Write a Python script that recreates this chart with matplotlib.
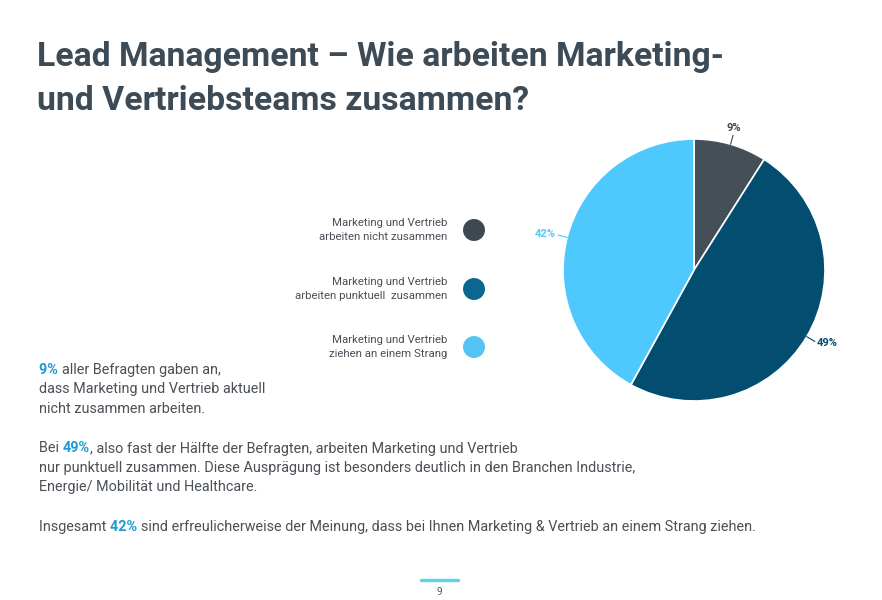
import matplotlib
matplotlib.use("Agg")
import matplotlib.pyplot as plt
import numpy as np

# data
categories = ["Marketing und Vertrieb\narbeiten nicht zusammen",
              "Marketing und Vertrieb\narbeiten punktuell  zusammen",
              "Marketing und Vertrieb\nziehen an einem Strang"]
shares = [9, 49, 42]
slice_colors = ["#444f57", "#024d70", "#4fc9fd"]
legend_colors = ["#3e4850", "#0b6690", "#55c4f2"]
label_colors = ["#3e4850", "#024d70", "#4fc9fd"]

title_lines = ["Lead Management – Wie arbeiten Marketing-",
               "und Vertriebsteams zusammen?"]

# body paragraphs: list of lines, each line a list of (text, highlighted)
body_lines = [
    [("9% ", True), ("aller Befragten gaben an,", False)],
    [("dass Marketing und Vertrieb aktuell", False)],
    [("nicht zusammen arbeiten.", False)],
    None,
    [("Bei ", False), ("49%", True), (", also fast der Hälfte der Befragten, arbeiten Marketing und Vertrieb", False)],
    [("nur punktuell zusammen. Diese Ausprägung ist besonders deutlich in den Branchen Industrie,", False)],
    [("Energie/ Mobilität und Healthcare.", False)],
    None,
    [("Insgesamt ", False), ("42% ", True), ("sind erfreulicherweise der Meinung, dass bei Ihnen Marketing & Vertrieb an einem Strang ziehen.", False)],
]
page_number = "9"

FONT = "Roboto"
TEXT = "#4a5057"
TITLE = "#3d4b56"
HILITE = "#1a9ad6"
BODY_SIZE = 10.4

W, H = 882, 600
fig = plt.figure(figsize=(W / 100, H / 100), dpi=100)
fig.patch.set_facecolor("white")

# overlay axes in pixel units
ov = fig.add_axes([0, 0, 1, 1])
ov.set_xlim(0, W)
ov.set_ylim(H, 0)
ov.axis("off")

# title
for i, line in enumerate(title_lines):
    ov.text(37, 66 + i * 44, line, family=FONT, fontsize=24.3, weight="bold",
            color=TITLE, va="baseline", ha="left")

# pie
cx, cy, r = 694, 270, 131
pax = fig.add_axes([(cx - r) / W, (H - cy - r) / H, 2 * r / W, 2 * r / H])
wedges, _ = pax.pie(shares, colors=slice_colors, startangle=90, counterclock=False,
                    radius=1.0, wedgeprops=dict(edgecolor="white", linewidth=1.2))
pax.set_xlim(-1, 1)
pax.set_ylim(-1, 1)
pax.set_aspect("equal")

for w, val, col in zip(wedges, shares, label_colors):
    ang = np.deg2rad((w.theta1 + w.theta2) / 2)
    ca, sa = np.cos(ang), np.sin(ang)
    pax.plot([1.0 * ca, 1.07 * ca], [1.0 * sa, 1.07 * sa], color=col, lw=0.8,
             clip_on=False)
    ha = "left" if ca > 0.3 else ("right" if ca < -0.3 else "center")
    pax.text(1.09 * ca, 1.09 * sa, f"{val}%", color=col, family=FONT, fontsize=8,
             weight="bold", ha=ha, va="center" if abs(sa) < 0.8 else "bottom")

# legend
rows_y = [230, 289, 347]
for y, lab, col in zip(rows_y, categories, legend_colors):
    ov.scatter([474], [y], s=250, color=col, edgecolors="none")
    ov.text(447, y, lab, family=FONT, fontsize=8.2, color=TEXT, ha="right",
            va="center", linespacing=1.45)

# body text with highlighted spans
fig.canvas.draw()
renderer = fig.canvas.get_renderer()


def width_of(s, weight):
    t = ov.text(0, 0, s, family=FONT, fontsize=BODY_SIZE, weight=weight)
    wpx = t.get_window_extent(renderer).width
    t.remove()
    return wpx


y = 374
for line in body_lines:
    if line is None:
        y += 20
        continue
    x = 39
    for txt, hi in line:
        weight = "bold" if hi else "normal"
        ov.text(x, y, txt, family=FONT, fontsize=BODY_SIZE, weight=weight,
                color=HILITE if hi else TEXT, va="baseline", ha="left")
        x += width_of(txt + "x", weight) - width_of("x", weight)
    y += 19.5

# footer
ov.plot([421, 458], [580, 580], color="#62d3e3", lw=2.5, solid_capstyle="round")
ov.text(439, 592, page_number, family=FONT, fontsize=7, color=TEXT,
        ha="center", va="center")

fig.savefig("out.png", dpi=100, facecolor="white")
